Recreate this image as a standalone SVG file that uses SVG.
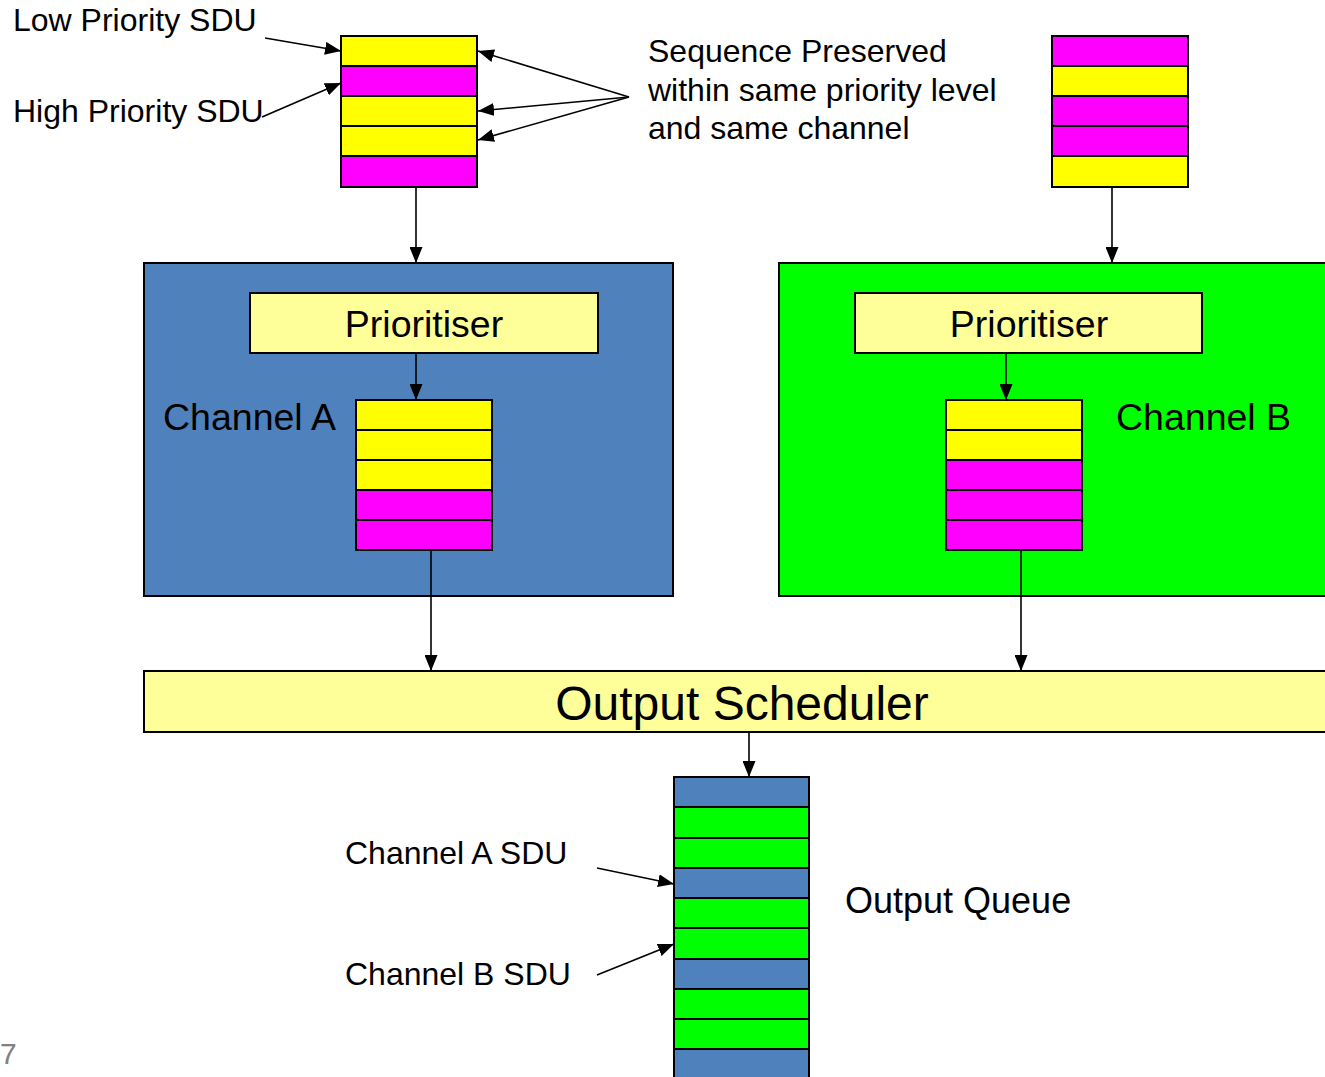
<svg xmlns="http://www.w3.org/2000/svg" width="1325" height="1077" viewBox="0 0 1325 1077">
  <defs>
    <marker id="arrow" markerWidth="16" markerHeight="13" refX="16" refY="6.5" orient="auto" markerUnits="userSpaceOnUse">
      <path d="M0,0 L16,6.5 L0,13 Z" fill="#000"/>
    </marker>
  </defs>
  <style>
    text { font-family: "Liberation Sans", Arial, sans-serif; fill: #000; }
    .label { font-size: 32px; }
    .big { font-size: 37.5px; }
    .huge { font-size: 48px; }
    .cell { stroke: #000; stroke-width: 2; }
    .y { fill: #FFFF00; }
    .m { fill: #FF00FF; }
    .b { fill: #4F81BD; }
    .g { fill: #00FF00; }
    .box { stroke: #000; stroke-width: 2; }
    .pale { fill: #FFFF99; }
    .conn { stroke: #000; stroke-width: 1.6; fill: none; marker-end: url(#arrow); }
  </style>

  <rect width="1325" height="1077" fill="#fff"/>

  <!-- incoming SDU stream for channel A -->
  <g id="stack-in-a">
    <rect class="cell y" x="341" y="36" width="136" height="30"/>
    <rect class="cell m" x="341" y="66" width="136" height="30"/>
    <rect class="cell y" x="341" y="96" width="136" height="30"/>
    <rect class="cell y" x="341" y="126" width="136" height="30"/>
    <rect class="cell m" x="341" y="156" width="136" height="31"/>
  </g>

  <!-- incoming SDU stream for channel B -->
  <g id="stack-in-b">
    <rect class="cell m" x="1052" y="36" width="136" height="30"/>
    <rect class="cell y" x="1052" y="66" width="136" height="30"/>
    <rect class="cell m" x="1052" y="96" width="136" height="30"/>
    <rect class="cell m" x="1052" y="126" width="136" height="30"/>
    <rect class="cell y" x="1052" y="156" width="136" height="31"/>
  </g>

  <g id="label-low">
    <text class="label" x="13" y="31">Low Priority SDU</text>
  </g>
  <g id="label-high">
    <text class="label" x="13" y="122">High Priority SDU</text>
  </g>
  <g id="label-sequence">
    <text class="label" x="648" y="62">Sequence Preserved</text>
    <text class="label" x="648" y="101">within same priority level</text>
    <text class="label" x="648" y="139">and same channel</text>
  </g>

  <!-- Channel A -->
  <g id="channel-a">
    <rect class="box b" x="144" y="263" width="529" height="333"/>
    <text class="big" x="163" y="430">Channel A</text>
  </g>
  <g id="prioritiser-a">
    <rect class="box pale" x="250" y="293" width="348" height="60"/>
    <text class="big" x="424" y="337" text-anchor="middle">Prioritiser</text>
  </g>
  <g id="queue-a">
    <rect class="cell y" x="356" y="400" width="136" height="30"/>
    <rect class="cell y" x="356" y="430" width="136" height="30"/>
    <rect class="cell y" x="356" y="460" width="136" height="30"/>
    <rect class="cell m" x="356" y="490" width="136" height="30"/>
    <rect class="cell m" x="356" y="520" width="136" height="30"/>
  </g>

  <!-- Channel B -->
  <g id="channel-b">
    <rect class="box g" x="779" y="263" width="560" height="333"/>
    <text class="big" x="1116" y="430">Channel B</text>
  </g>
  <g id="prioritiser-b">
    <rect class="box pale" x="855" y="293" width="347" height="60"/>
    <text class="big" x="1029" y="337" text-anchor="middle">Prioritiser</text>
  </g>
  <g id="queue-b">
    <rect class="cell y" x="946" y="400" width="136" height="30"/>
    <rect class="cell y" x="946" y="430" width="136" height="30"/>
    <rect class="cell m" x="946" y="460" width="136" height="30"/>
    <rect class="cell m" x="946" y="490" width="136" height="30"/>
    <rect class="cell m" x="946" y="520" width="136" height="30"/>
  </g>

  <!-- Output scheduler -->
  <g id="output-scheduler">
    <rect class="box pale" x="144" y="671" width="1200" height="61"/>
    <text class="huge" x="742" y="720" text-anchor="middle">Output Scheduler</text>
  </g>

  <!-- Output queue -->
  <g id="output-queue">
    <rect class="cell b" x="674" y="777" width="135" height="30"/>
    <rect class="cell g" x="674" y="807" width="135" height="31"/>
    <rect class="cell g" x="674" y="838" width="135" height="30"/>
    <rect class="cell b" x="674" y="868" width="135" height="30"/>
    <rect class="cell g" x="674" y="898" width="135" height="30"/>
    <rect class="cell g" x="674" y="928" width="135" height="31"/>
    <rect class="cell b" x="674" y="959" width="135" height="30"/>
    <rect class="cell g" x="674" y="989" width="135" height="30"/>
    <rect class="cell g" x="674" y="1019" width="135" height="30"/>
    <rect class="cell b" x="674" y="1049" width="135" height="40"/>
    <text class="label" x="845" y="913" style="font-size:36px">Output Queue</text>
  </g>
  <g id="label-sdu-a">
    <text class="label" x="345" y="864">Channel A SDU</text>
  </g>
  <g id="label-sdu-b">
    <text class="label" x="345" y="985">Channel B SDU</text>
  </g>

  <g id="page-number">
    <text x="0" y="1064" style="font-size:30px; fill:#808080;">7</text>
  </g>

  <!-- connectors -->
  <g id="connectors">
    <line class="conn" x1="265" y1="38" x2="341" y2="51"/>
    <line class="conn" x1="262" y1="117" x2="341" y2="83"/>
    <line class="conn" x1="629" y1="97" x2="478" y2="51"/>
    <line class="conn" x1="629" y1="97" x2="478" y2="111"/>
    <line class="conn" x1="629" y1="97" x2="478" y2="140"/>
    <line class="conn" x1="416" y1="187" x2="416" y2="263"/>
    <line class="conn" x1="1112" y1="187" x2="1112" y2="263"/>
    <line class="conn" x1="416" y1="353" x2="416" y2="400"/>
    <line class="conn" x1="1006" y1="353" x2="1006" y2="400"/>
    <line class="conn" x1="431" y1="550" x2="431" y2="671"/>
    <line class="conn" x1="1021" y1="550" x2="1021" y2="671"/>
    <line class="conn" x1="749" y1="732" x2="749" y2="777"/>
    <line class="conn" x1="597" y1="868" x2="674" y2="884"/>
    <line class="conn" x1="597" y1="975" x2="674" y2="944"/>
  </g>
</svg>
